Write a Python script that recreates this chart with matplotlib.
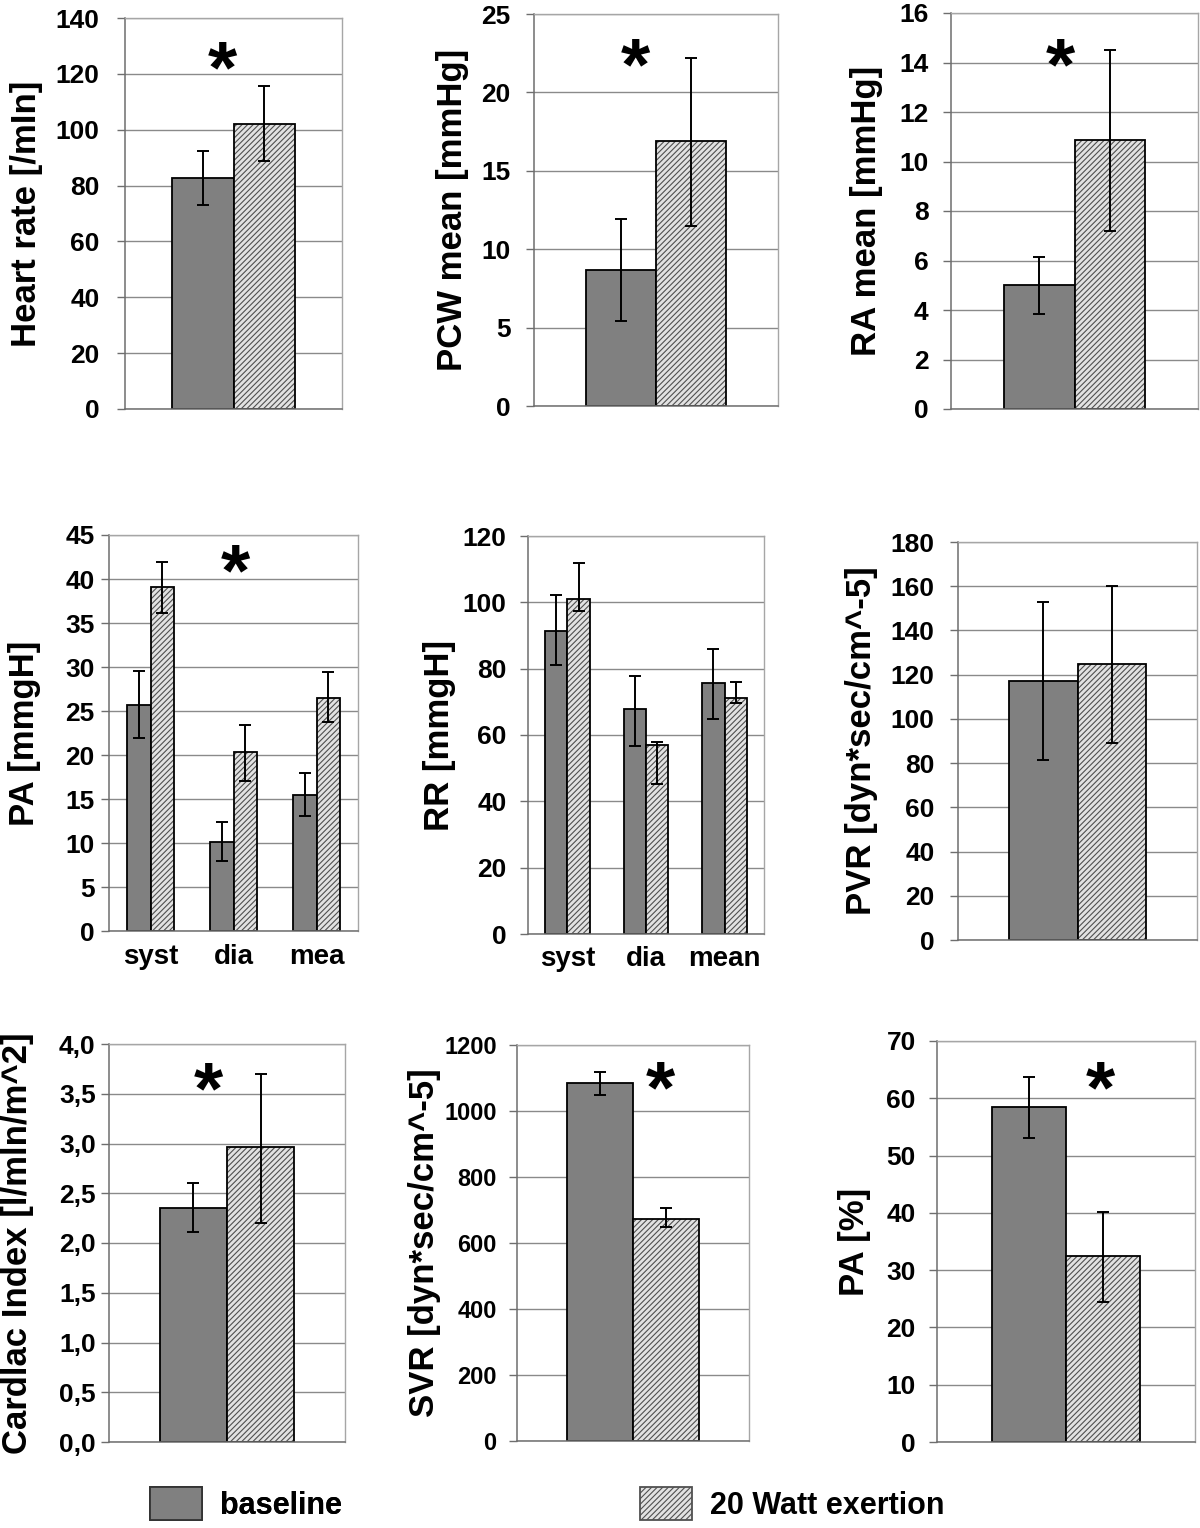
import matplotlib
matplotlib.use("Agg")
import matplotlib.pyplot as plt
import numpy as np
from matplotlib.patches import Patch
from matplotlib.ticker import FuncFormatter

plt.rcParams['font.family'] = ['Liberation Sans', 'DejaVu Sans']
plt.rcParams['font.weight'] = 'bold'
plt.rcParams['hatch.linewidth'] = 0.8

W, H = 1200, 1528

# ---------------- data ----------------
single_cat = ['']
pa_categories = ['syst', 'dia', 'mea']
rr_categories = ['syst', 'dia', 'mean']

hr_baseline = [82.7];   hr_baseline_lo = [73.0];  hr_baseline_hi = [92.2]
hr_exertion = [102.0];  hr_exertion_lo = [88.7];  hr_exertion_hi = [115.7]

pcw_baseline = [8.7];   pcw_baseline_lo = [5.4];   pcw_baseline_hi = [11.9]
pcw_exertion = [16.9];  pcw_exertion_lo = [11.45]; pcw_exertion_hi = [22.2]

ra_baseline = [5.0];    ra_baseline_lo = [3.85];  ra_baseline_hi = [6.15]
ra_exertion = [10.85];  ra_exertion_lo = [7.2];   ra_exertion_hi = [14.5]

pa_baseline = [25.7, 10.15, 15.45]; pa_baseline_lo = [21.9, 7.9, 13.05]; pa_baseline_hi = [29.5, 12.4, 17.9]
pa_exertion = [39.1, 20.3, 26.5];   pa_exertion_lo = [36.1, 17.1, 23.7]; pa_exertion_hi = [41.95, 23.4, 29.4]

rr_baseline = [91.4, 67.7, 75.6];   rr_baseline_lo = [81.0, 56.8, 64.7]; rr_baseline_hi = [102.3, 77.9, 86.0]
rr_exertion = [100.9, 56.9, 71.3];  rr_exertion_lo = [97.4, 45.2, 69.7]; rr_exertion_hi = [111.8, 57.9, 76.1]

pvr_baseline = [117.0]; pvr_baseline_lo = [81.2]; pvr_baseline_hi = [152.9]
pvr_exertion = [124.8]; pvr_exertion_lo = [89.3]; pvr_exertion_hi = [160.1]

ci_baseline = [2.35];   ci_baseline_lo = [2.11];  ci_baseline_hi = [2.6]
ci_exertion = [2.96];   ci_exertion_lo = [2.2];   ci_exertion_hi = [3.7]

svr_baseline = [1084.0]; svr_baseline_lo = [1048.0]; svr_baseline_hi = [1119.0]
svr_exertion = [673.0];  svr_exertion_lo = [649.0];  svr_exertion_hi = [705.0]

pap_baseline = [58.4];  pap_baseline_lo = [53.0]; pap_baseline_hi = [63.7]
pap_exertion = [32.4];  pap_exertion_lo = [24.5]; pap_exertion_hi = [40.2]

series_labels = ['baseline', '20 Watt exertion']

# ---------------- layout ----------------
def axpos(l, r, t, b):
    return [l / W, 1 - b / H, (r - l) / W, (b - t) / H]

panels = [
    dict(pos=(125, 342, 18, 409), cats=single_cat, b=hr_baseline, blo=hr_baseline_lo, bhi=hr_baseline_hi,
         e=hr_exertion, elo=hr_exertion_lo, ehi=hr_exertion_hi, ymax=140, step=20,
         ylabel='Heart rate [/mIn]', labx=-0.452, pad=17, star=(222, 57)),
    dict(pos=(534, 778, 14, 406), cats=single_cat, b=pcw_baseline, blo=pcw_baseline_lo, bhi=pcw_baseline_hi,
         e=pcw_exertion, elo=pcw_exertion_lo, ehi=pcw_exertion_hi, ymax=25, step=5,
         ylabel='PCW mean [mmHg]', labx=-0.336, pad=15, star=(635, 54)),
    dict(pos=(951, 1198, 13, 409), cats=single_cat, b=ra_baseline, blo=ra_baseline_lo, bhi=ra_baseline_hi,
         e=ra_exertion, elo=ra_exertion_lo, ehi=ra_exertion_hi, ymax=16, step=2,
         ylabel='RA mean [mmHg]', labx=-0.344, pad=14, star=(1060, 54)),
    dict(pos=(109, 358, 535, 931), cats=pa_categories, b=pa_baseline, blo=pa_baseline_lo, bhi=pa_baseline_hi,
         e=pa_exertion, elo=pa_exertion_lo, ehi=pa_exertion_hi, ymax=45, step=5,
         ylabel='PA [mmgH]', labx=-0.341, pad=6, star=(235, 560)),
    dict(pos=(528, 764, 536, 934), cats=rr_categories, b=rr_baseline, blo=rr_baseline_lo, bhi=rr_baseline_hi,
         e=rr_exertion, elo=rr_exertion_lo, ehi=rr_exertion_hi, ymax=120, step=20,
         ylabel='RR [mmgH]', labx=-0.373, pad=13, star=None),
    dict(pos=(958, 1197, 542, 940), cats=single_cat, b=pvr_baseline, blo=pvr_baseline_lo, bhi=pvr_baseline_hi,
         e=pvr_exertion, elo=pvr_exertion_lo, ehi=pvr_exertion_hi, ymax=180, step=20,
         ylabel='PVR [dyn*sec/cm^-5]', labx=-0.402, pad=15, star=None),
    dict(pos=(109, 345, 1044, 1442), cats=single_cat, b=ci_baseline, blo=ci_baseline_lo, bhi=ci_baseline_hi,
         e=ci_exertion, elo=ci_exertion_lo, ehi=ci_exertion_hi, ymax=4.0, step=0.5,
         ylabel='Cardlac Index [l/mln/m^2]', labx=-0.386, pad=5, star=(208, 1078), comma=True),
    dict(pos=(517, 749, 1045, 1441), cats=single_cat, b=svr_baseline, blo=svr_baseline_lo, bhi=svr_baseline_hi,
         e=svr_exertion, elo=svr_exertion_lo, ehi=svr_exertion_hi, ymax=1200, step=200,
         ylabel='SVR [dyn*sec/cm^-5]', labx=-0.397, pad=12, star=(660, 1077), ticksize=17),
    dict(pos=(937, 1195, 1041, 1442), cats=single_cat, b=pap_baseline, blo=pap_baseline_lo, bhi=pap_baseline_hi,
         e=pap_exertion, elo=pap_exertion_lo, ehi=pap_exertion_hi, ymax=70, step=10,
         ylabel='PA [%]', labx=-0.318, pad=13, star=(1100, 1077)),
]

BASE_COLOR = '#808080'
EX_FACE = '#e2e2e2'
EX_HATCH = '#505050'
GRID = '#8a8a8a'
FRAME = '#a6a6a6'
AXIS = '#6e6e6e'
BW = 0.285

fig = plt.figure(figsize=(W / 100, H / 100), dpi=100)

for p in panels:
    ax = fig.add_axes(axpos(*p['pos']))
    n = len(p['cats'])
    x = np.arange(n)
    b = np.array(p['b']); e = np.array(p['e'])
    ax.bar(x - BW / 2, b, BW, color=BASE_COLOR, edgecolor='black', linewidth=1.3, zorder=2)
    ax.bar(x + BW / 2, e, BW, color=EX_FACE, edgecolor=EX_HATCH, hatch='//////', linewidth=0, zorder=2)
    ax.bar(x + BW / 2, e, BW, fill=False, edgecolor='black', linewidth=1.3, zorder=2.1)
    ax.errorbar(x - BW / 2, b, yerr=[b - np.array(p['blo']), np.array(p['bhi']) - b], fmt='none',
                ecolor='black', elinewidth=1.4, capsize=4, capthick=1.4, zorder=3)
    ax.errorbar(x + BW / 2, e, yerr=[e - np.array(p['elo']), np.array(p['ehi']) - e], fmt='none',
                ecolor='black', elinewidth=1.4, capsize=4, capthick=1.4, zorder=3)

    ax.set_xlim(-0.5, n - 0.5)
    ax.set_ylim(0, p['ymax'])
    ticks = np.arange(0, p['ymax'] + p['step'] / 2, p['step'])
    ax.set_yticks(ticks)
    if p.get('comma'):
        ax.yaxis.set_major_formatter(FuncFormatter(lambda v, _: f"{v:.1f}".replace('.', ',')))
    else:
        ax.yaxis.set_major_formatter(FuncFormatter(lambda v, _: f"{v:g}"))
    ax.grid(axis='y', color=GRID, linewidth=1.0)
    ax.set_axisbelow(True)
    ax.tick_params(axis='y', direction='out', length=6, width=1.0, color=AXIS,
                   labelsize=p.get('ticksize', 19), pad=p['pad'] * 0.72)
    if n > 1:
        ax.set_xticks(x)
        ax.set_xticklabels(p['cats'], fontsize=20, fontweight='bold')
        ax.tick_params(axis='x', length=0, pad=9)
    else:
        ax.set_xticks([])
    for s in ['top', 'right']:
        ax.spines[s].set_color(FRAME)
        ax.spines[s].set_linewidth(1.0)
    for s in ['left', 'bottom']:
        ax.spines[s].set_color(AXIS)
        ax.spines[s].set_linewidth(1.1)
    ax.set_ylabel(p['ylabel'], fontsize=25, fontweight='bold', va='center', ha='center')
    ax.yaxis.set_label_coords(p['labx'], 0.5)

    if p['star'] is not None:
        sx, sy = p['star']
        fs = 54
        em = fs * 100 / 72
        fig.text(sx / W, 1 - (sy + 0.47 * em) / H, '*', fontsize=fs, fontweight='bold',
                 ha='center', va='baseline')

# ---------------- legend ----------------
h_base = Patch(facecolor=BASE_COLOR, edgecolor='#333333', linewidth=1.3)
h_ex = Patch(facecolor=EX_FACE, edgecolor=EX_HATCH, hatch='//////', linewidth=1.3)
fs_leg = 22
empx = fs_leg * 100 / 72
kw = dict(frameon=False, handlelength=52 / empx, handleheight=38 / empx,
          handletextpad=18 / empx, borderpad=0, borderaxespad=0, loc='center left',
          prop={'weight': 'bold', 'size': fs_leg})
leg1 = fig.legend([h_base], [series_labels[0]], bbox_to_anchor=(150 / W, 1 - 1504 / H), **kw)
fig.add_artist(leg1)
leg2 = fig.legend([h_ex], [series_labels[1]], bbox_to_anchor=(640 / W, 1 - 1504 / H), **kw)

fig.savefig('out.png', dpi=100, facecolor='white')
